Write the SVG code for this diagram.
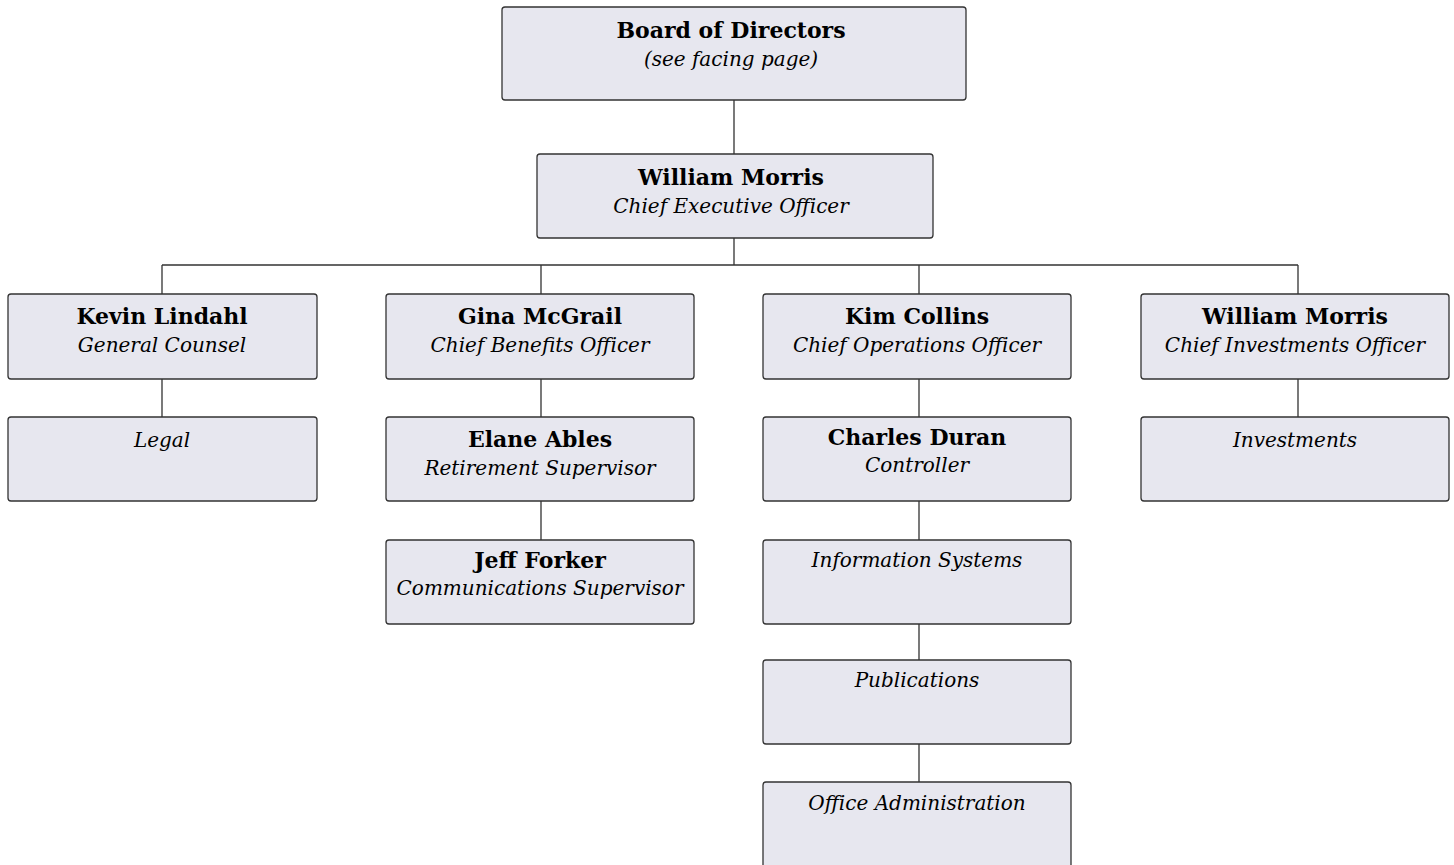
<svg xmlns="http://www.w3.org/2000/svg" width="1454" height="865" viewBox="0 0 1454 865">
<style>
.box{fill:#e7e7ef;stroke:#333;stroke-width:1.3}
.n{font-family:"DejaVu Serif","Liberation Serif",serif;font-weight:bold;font-size:22px;fill:#000;text-anchor:middle}
.t{font-family:"DejaVu Serif","Liberation Serif",serif;font-style:italic;font-size:20px;fill:#000;text-anchor:middle}
.c{stroke:#333;stroke-width:1.3;fill:none}
</style>
<rect width="1454" height="865" fill="#fff"/>
<g id="connectors">
<path class="c" d="M734,100V154M734,238V265M162,265H1298M162,265V294M541,265V294M919,265V294M1298,265V294"/>
<path class="c" d="M162,379V417M541,379V417M541,501V540M919,379V417M919,501V540M919,624V660M919,744V782M1298,379V417"/>
</g>
<g id="board"><rect class="box" x="502" y="7" width="464" height="93" rx="3"/><text class="n" x="731" y="38">Board of Directors</text><text class="t" x="731" y="66">(see facing page)</text></g>
<g id="ceo"><rect class="box" x="537" y="154" width="396" height="84" rx="3"/><text class="n" x="731" y="185">William Morris</text><text class="t" x="731" y="213">Chief Executive Officer</text></g>
<g id="kevin"><rect class="box" x="8" y="294" width="309" height="85" rx="3"/><text class="n" x="162" y="324">Kevin Lindahl</text><text class="t" x="162" y="352">General Counsel</text></g>
<g id="gina"><rect class="box" x="386" y="294" width="308" height="85" rx="3"/><text class="n" x="540" y="324">Gina McGrail</text><text class="t" x="540" y="352">Chief Benefits Officer</text></g>
<g id="kim"><rect class="box" x="763" y="294" width="308" height="85" rx="3"/><text class="n" x="917" y="324">Kim Collins</text><text class="t" x="917" y="352">Chief Operations Officer</text></g>
<g id="morris2"><rect class="box" x="1141" y="294" width="308" height="85" rx="3"/><text class="n" x="1295" y="324">William Morris</text><text class="t" x="1295" y="352">Chief Investments Officer</text></g>
<g id="legal"><rect class="box" x="8" y="417" width="309" height="84" rx="3"/><text class="t" x="162" y="447">Legal</text></g>
<g id="elane"><rect class="box" x="386" y="417" width="308" height="84" rx="3"/><text class="n" x="540" y="447">Elane Ables</text><text class="t" x="540" y="475">Retirement Supervisor</text></g>
<g id="charles"><rect class="box" x="763" y="417" width="308" height="84" rx="3"/><text class="n" x="917" y="445">Charles Duran</text><text class="t" x="917" y="472">Controller</text></g>
<g id="investments"><rect class="box" x="1141" y="417" width="308" height="84" rx="3"/><text class="t" x="1295" y="447">Investments</text></g>
<g id="jeff"><rect class="box" x="386" y="540" width="308" height="84" rx="3"/><text class="n" x="540" y="568">Jeff Forker</text><text class="t" x="540" y="595">Communications Supervisor</text></g>
<g id="infosys"><rect class="box" x="763" y="540" width="308" height="84" rx="3"/><text class="t" x="917" y="567">Information Systems</text></g>
<g id="publications"><rect class="box" x="763" y="660" width="308" height="84" rx="3"/><text class="t" x="917" y="687">Publications</text></g>
<g id="officeadmin"><rect class="box" x="763" y="782" width="308" height="90" rx="3"/><text class="t" x="917" y="810">Office Administration</text></g>
</svg>
